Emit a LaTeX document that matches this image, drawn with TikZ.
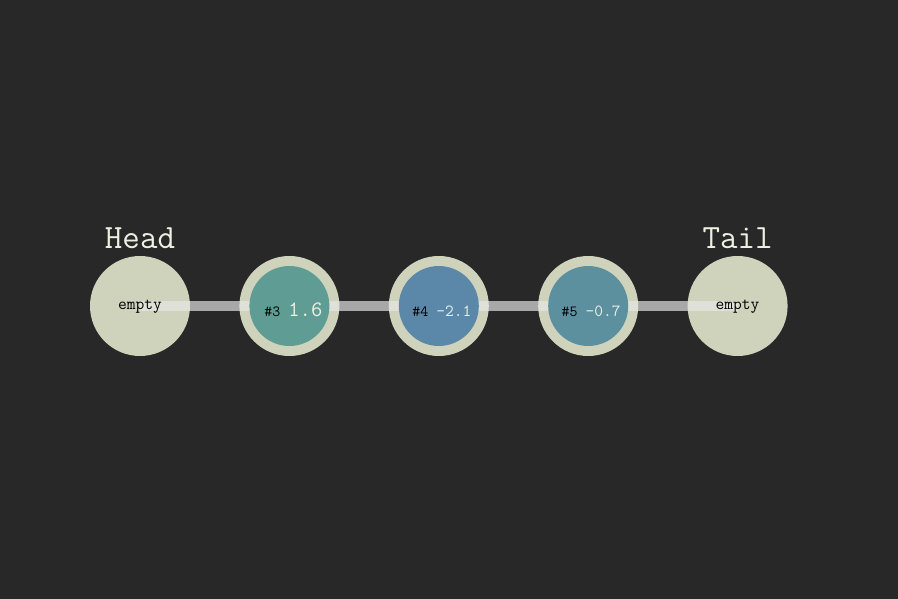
\documentclass[tikz,border=0pt]{standalone}
\usetikzlibrary{positioning}
\definecolor{canvas}{HTML}{282828}
\definecolor{ringc}{HTML}{CFD3BC}
\definecolor{linkc}{HTML}{E8E8E8}
\definecolor{lightc}{HTML}{EEF0E2}
\definecolor{tealc}{HTML}{5F9D94}
\definecolor{bluec}{HTML}{5B87A8}
\definecolor{slatec}{HTML}{5C909F}
\tikzset{
	ring/.style={circle,fill=ringc,minimum size=100pt,inner sep=0pt},
	core/.style={circle,fill=#1,minimum size=80pt,inner sep=0pt},
	link/.style={line width=10pt,draw=linkc,draw opacity=.67},
	celltext/.style={font=\ttfamily\fontsize{15.5}{15.5}\selectfont},
	endtext/.style={font=\ttfamily\fontsize{17}{17}\selectfont,text=black},
	endlabel/.style={font=\ttfamily\fontsize{34}{34}\selectfont,text=lightc}
}

\begin{document}
\begin{tikzpicture}[x=1pt,y=-1pt]
\fill[canvas] (0,0) rectangle (898,599);
\useasboundingbox (0,0) rectangle (898,599);

%list cells
\node[ring] (head) at (140,306) {};
\node[ring,right=49pt of head] (c3) {};
\node[ring,right=49pt of c3] (c4) {};
\node[ring,right=49pt of c4] (c5) {};
\node[ring,right=49pt of c5] (tail) {};

%links
\foreach \a/\b in {head/c3,c3/c4,c4/c5,c5/tail}
	\draw[link] (\a.center) -- (\b.center);

%values
\node[core=tealc] (v3) at (c3) {};
\node[core=bluec] (v4) at (c4) {};
\node[core=slatec] (v5) at (c5) {};
\node[celltext] (t3) at ([xshift=4pt,yshift=-4pt]v3.center)
	{\textcolor{black}{\#3}~\textcolor{lightc}{\fontsize{22}{22}\selectfont 1.6}};
\node[celltext] (t4) at ([xshift=3pt,yshift=-5pt]v4.center)
	{\textcolor{black}{\#4}~\textcolor{lightc}{\fontsize{17}{17}\selectfont -2.1}};
\node[celltext] (t5) at ([xshift=3pt,yshift=-5pt]v5.center)
	{\textcolor{black}{\#5}~\textcolor{lightc}{\fontsize{17}{17}\selectfont -0.7}};

\node[endtext] (headtxt) at ([yshift=-1pt]head.center) {empty};
\node[endtext] (tailtxt) at ([yshift=-1pt]tail.center) {empty};

\node[endlabel,above=4pt of head] (headlbl) {Head};
\node[endlabel,above=4pt of tail] (taillbl) {Tail};
\end{tikzpicture}
\end{document}
